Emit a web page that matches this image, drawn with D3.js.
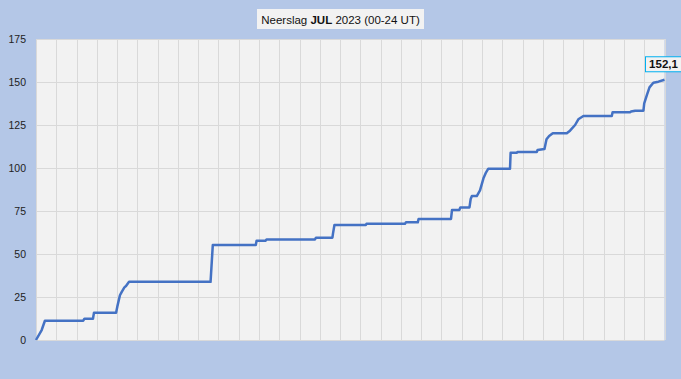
<!DOCTYPE html>
<html>
<head>
<meta charset="utf-8">
<script src="https://cdn.jsdelivr.net/npm/d3@7"></script>
<style>
  body { margin: 0; background: #b4c7e7; }
  svg { display: block; font-family: 'Liberation Sans', Arial, sans-serif; }
</style>
</head>
<body>
<svg id="chart" width="681" height="379"></svg>
<script>
// cumulative rainfall (day of month, mm)
const days = [0, 0.28, 0.44, 2.33, 2.39, 2.81, 2.86, 3.95, 4.01, 4.14, 4.23, 4.36, 4.44, 4.59,
  8.61, 8.72, 10.84, 10.88, 11.32, 11.37, 13.76, 13.81, 14.62, 14.65, 14.72, 16.27, 16.30,
  18.20, 18.25, 18.83, 18.87, 20.47, 20.52, 20.88, 20.93, 21.38, 21.44, 21.50, 21.74, 21.90,
  22.07, 22.20, 22.31, 23.38, 23.41, 23.71, 23.75, 24.70, 24.74, 25.08, 25.18, 25.31, 25.49,
  26.18, 26.34, 26.59, 26.75, 27.00, 28.40, 28.44, 29.30, 29.35, 29.55, 29.96, 30.0, 30.13,
  30.26, 30.45, 30.70, 31]
const rain = [0, 5.8, 11.2, 11.2, 12.4, 12.4, 15.9, 15.9, 19.4, 26, 28, 30.6, 31.4, 33.8,
  33.8, 55.2, 55.2, 57.7, 57.7, 58.5, 58.5, 59.5, 59.5, 62, 66.9, 66.9, 67.6,
  67.6, 68.4, 68.4, 70.4, 70.4, 75.6, 75.6, 77.1, 77.1, 82, 83.7, 83.7, 87,
  94, 97.5, 99.6, 99.6, 108.9, 108.9, 109.3, 109.3, 110.5, 111, 116.7, 118.6, 120.2,
  120.2, 121.7, 125, 128.3, 130.2, 130.2, 132.4, 132.4, 132.8, 133.3, 133.3, 137.6, 142.4,
  146.9, 149.6, 150.2, 151.3]
const yTicks = [0, 25, 50, 75, 100, 125, 150, 175]
const totalLabel = '152,1'

const W = 681, H = 379
const margin = {top: 39, right: 16.5, bottom: 39, left: 36}

const svg = d3.select('#chart')
svg.append('rect').attr('width', W).attr('height', H).attr('fill', '#b4c7e7')

const x = d3.scaleLinear().domain([0, 31]).range([margin.left, W - margin.right])
const y = d3.scaleLinear().domain([0, 175]).range([H - margin.bottom, margin.top])

// plot area
svg.append('rect')
  .attr('x', x(0)).attr('y', y(175))
  .attr('width', x(31) - x(0)).attr('height', y(0) - y(175))
  .attr('fill', '#f2f2f2')

// grid
svg.append('g')
  .selectAll('line').data(d3.range(0, 32)).join('line')
  .attr('x1', d => Math.round(x(d)) + 0.5).attr('x2', d => Math.round(x(d)) + 0.5)
  .attr('y1', y(175)).attr('y2', y(0))
  .attr('stroke', '#d9d9d9')
svg.append('g')
  .selectAll('line').data(yTicks).join('line')
  .attr('x1', x(0)).attr('x2', x(31))
  .attr('y1', d => Math.round(y(d)) + 0.5).attr('y2', d => Math.round(y(d)) + 0.5)
  .attr('stroke', '#d9d9d9')

// y axis labels
const yAxis = d3.axisLeft(y).tickValues(yTicks).tickSize(0).tickPadding(10)
svg.append('g')
  .attr('transform', `translate(${x(0)},0)`)
  .call(yAxis)
  .call(g => g.select('.domain').remove())
  .call(g => g.selectAll('text')
    .attr('font-size', 10.5)
    .attr('font-family', "'Liberation Sans', Arial, sans-serif")
    .attr('fill', '#222'))

// line
const line = d3.line().x((d, i) => x(days[i])).y(d => y(d))
svg.append('path')
  .datum(rain)
  .attr('d', line)
  .attr('fill', 'none')
  .attr('stroke', '#4472c4')
  .attr('stroke-width', 2.5)
  .attr('stroke-linejoin', 'round')

// total label
const lx = x(31) - 1, ly = y(rain[rain.length - 1]) - 9
const lbl = svg.append('g')
lbl.append('rect')
  .attr('x', lx - 18).attr('y', ly - 14)
  .attr('width', 36).attr('height', 15)
  .attr('fill', '#f2f2f2')
  .attr('stroke', '#00b0f0')
lbl.append('text')
  .attr('x', lx).attr('y', ly - 2.5)
  .attr('text-anchor', 'middle')
  .attr('font-size', 11.5)
  .attr('font-weight', 'bold')
  .attr('fill', '#111')
  .text(totalLabel)

// title
svg.append('rect')
  .attr('x', 257).attr('y', 9).attr('width', 167).attr('height', 20)
  .attr('fill', '#f2f2f2')
const title = svg.append('text')
  .attr('x', 340.5).attr('y', 23.5)
  .attr('text-anchor', 'middle')
  .attr('font-size', 11.5)
  .attr('fill', '#111')
title.append('tspan').text('Neerslag ')
title.append('tspan').attr('font-weight', 'bold').text('JUL')
title.append('tspan').text('  2023 (00-24 UT)')
</script>
</body>
</html>
